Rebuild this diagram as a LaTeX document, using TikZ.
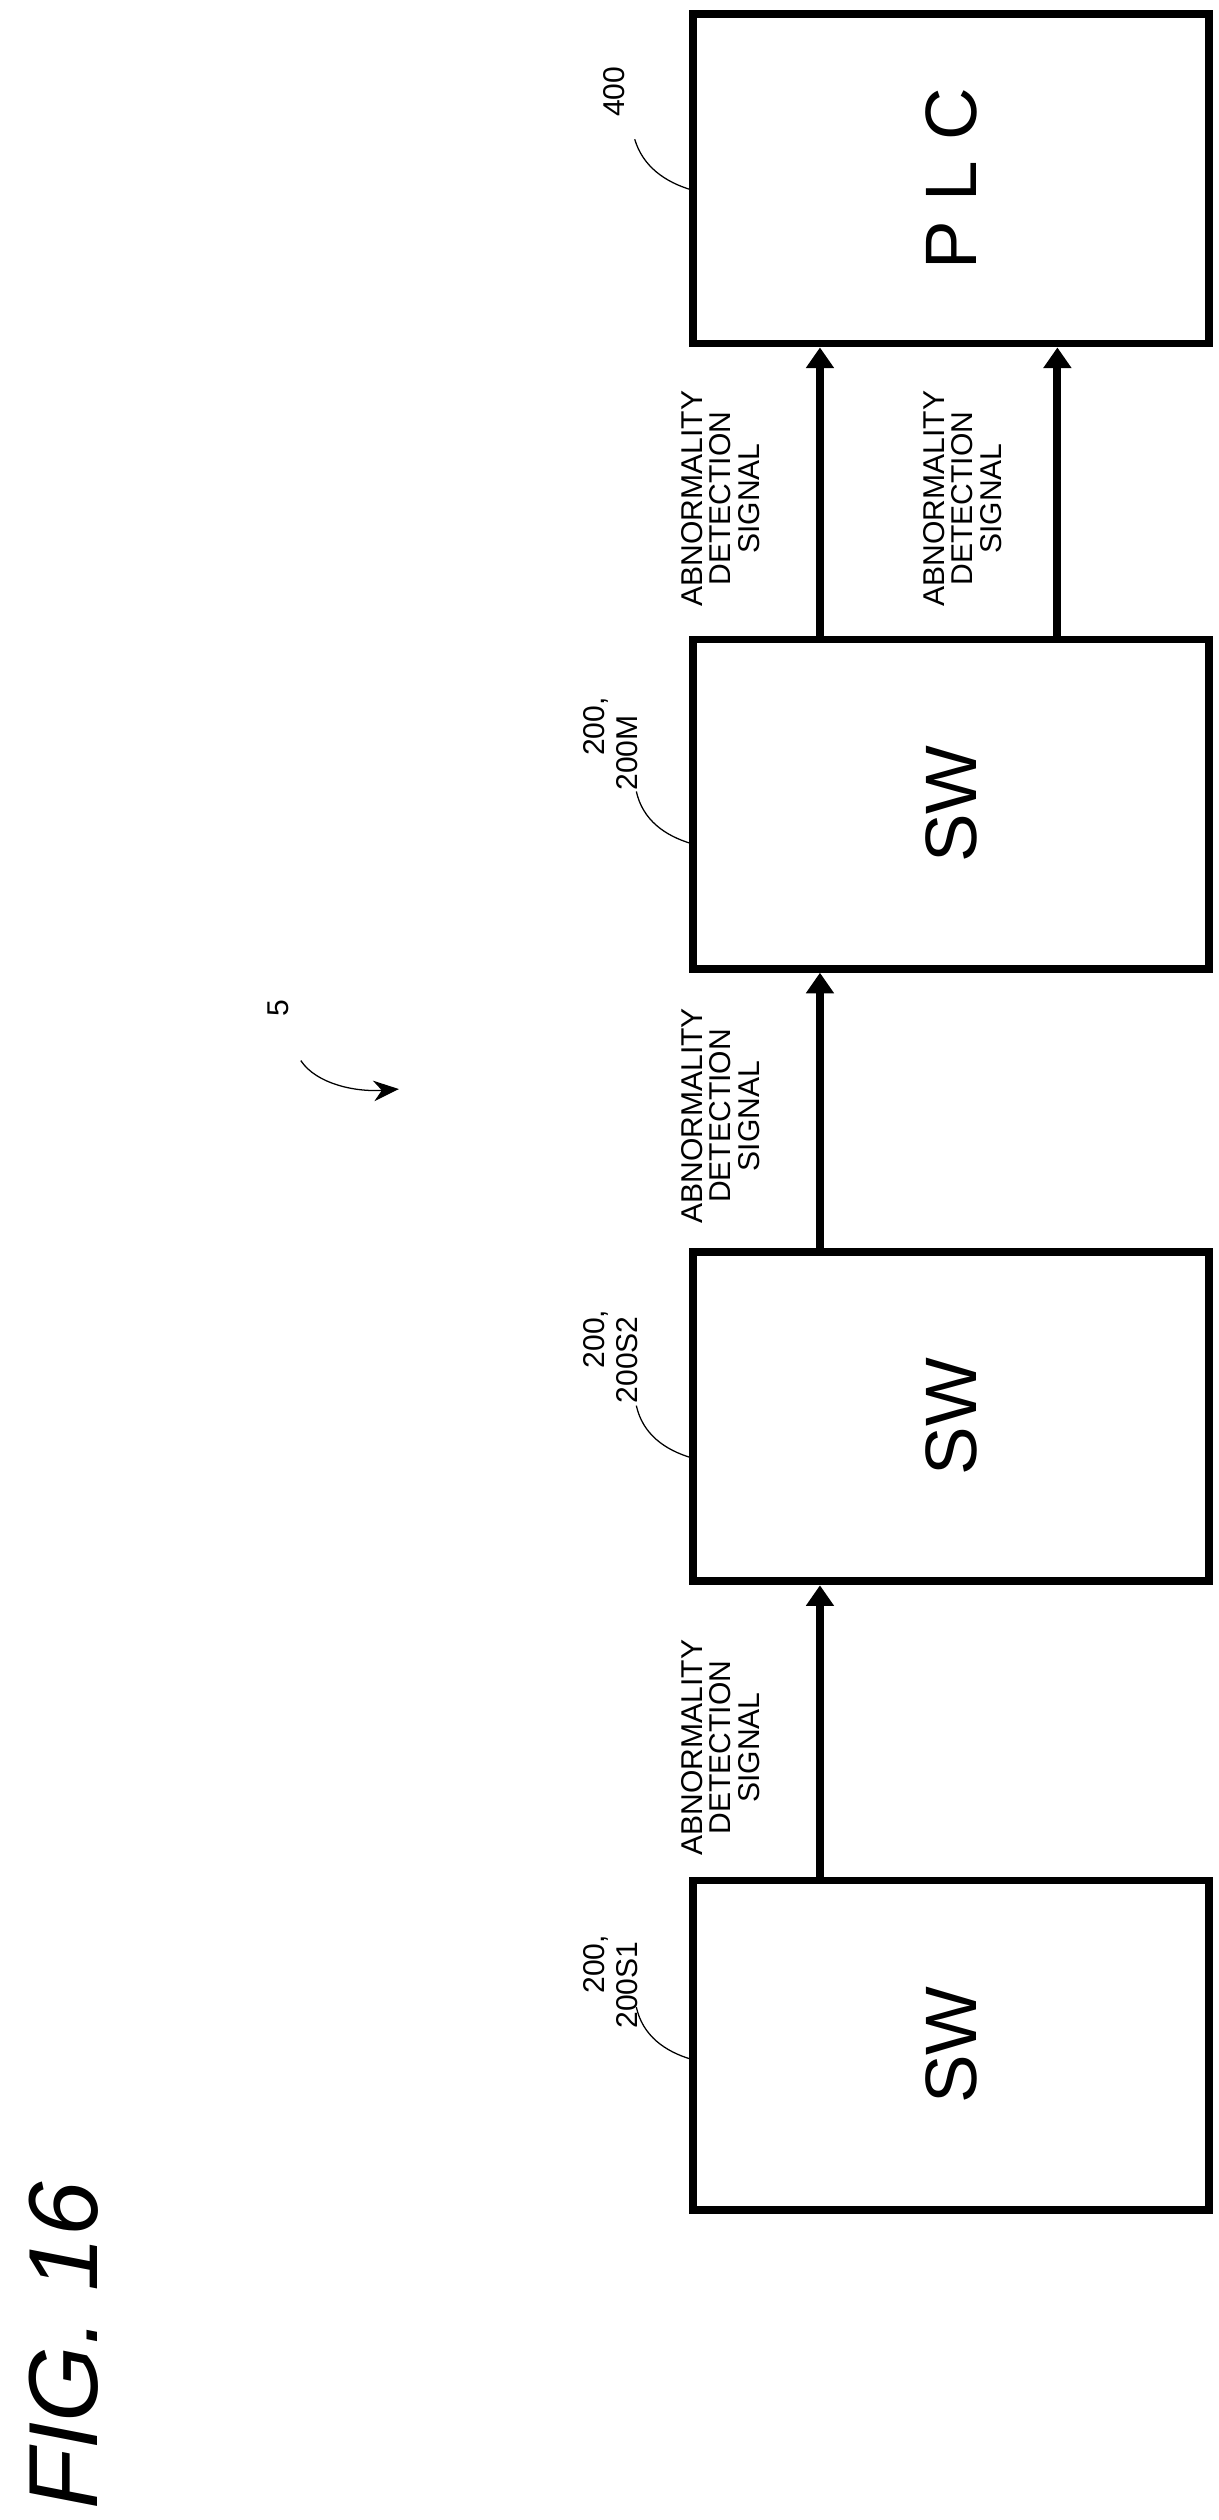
\documentclass[tikz,border=0pt]{standalone}
\usepackage{fontspec}
\setmainfont{Liberation Sans}
\usetikzlibrary{arrows.meta,calc}
\tikzset{
  blk/.style={draw,line width=5pt,minimum width=208pt,minimum height=326pt,inner sep=0pt,font=\fontsize{46}{46}\selectfont,rotate=90},
  sig/.style={line width=5pt,-{Triangle[width=17pt,length=13pt]}},
  lbl/.style={rotate=90,align=center,inner sep=0.75pt,font=\fontsize{19}{18}\selectfont},
  ref/.style={rotate=90,align=left,inner sep=0.75pt,font=\fontsize{19}{21}\selectfont},
  lead/.style={line width=0.8pt}
}
\begin{document}
\begin{tikzpicture}[x=1pt,y=1pt,yscale=-1]
\useasboundingbox (0,0) rectangle (770,1592);
%Blocks
\node [blk] (plc) at (601,113) {P L C};
\node [blk] (swm) at (601,508) {SW};
\node [blk] (sw2) at (601,895) {SW};
\node [blk] (sw1) at (601,1292) {SW};
%Signal arrows
\coordinate (a1) at (518,0);
\coordinate (a2) at (668,0);
\draw [sig] (a1 |- sw1.east) -- (a1 |- sw2.west);
\draw [sig] (a1 |- sw2.east) -- (a1 |- swm.west);
\draw [sig] (a1 |- swm.east) -- (a1 |- plc.west);
\draw [sig] (a2 |- swm.east) -- (a2 |- plc.west);
% Text Node
\node [lbl] (s1) at (455,1104) {ABNORMALITY\\DETECTION\\SIGNAL};
\node [lbl] (s2) at (455,705) {ABNORMALITY\\DETECTION\\SIGNAL};
\node [lbl] (s3) at (455,315) {ABNORMALITY\\DETECTION\\SIGNAL};
\node [lbl] (s4) at (608,315) {ABNORMALITY\\DETECTION\\SIGNAL};
% Reference numerals
\node [ref] (r400) at (388,58) {400};
\draw [lead] (401,88) .. controls (406,105) and (420,115) .. (437,120);
\node [ref] (r200m) at (386,470) {\hspace*{22pt}200,\\200M};
\draw [lead] (402,500) .. controls (406,518) and (420,528) .. (437,533);
\node [ref] (r200s2) at (386,857) {\hspace*{22pt}200,\\200S2};
\draw [lead] (402,888) .. controls (406,906) and (420,916) .. (437,921);
\node [ref] (r200s1) at (386,1252) {\hspace*{22pt}200,\\200S1};
\draw [lead] (402,1268) .. controls (406,1286) and (420,1296) .. (437,1301);
\node [ref] (r5) at (176,637) {5};
\draw [lead,-{Stealth[length=16pt,width=13pt]}] (190,670) .. controls (200,685) and (225,690) .. (252,688);
% Figure title
\node [rotate=90,inner sep=0pt,font=\fontsize{62}{62}\selectfont\itshape] (fig) at (40,1482) {FIG. 16};
\end{tikzpicture}
\end{document}
